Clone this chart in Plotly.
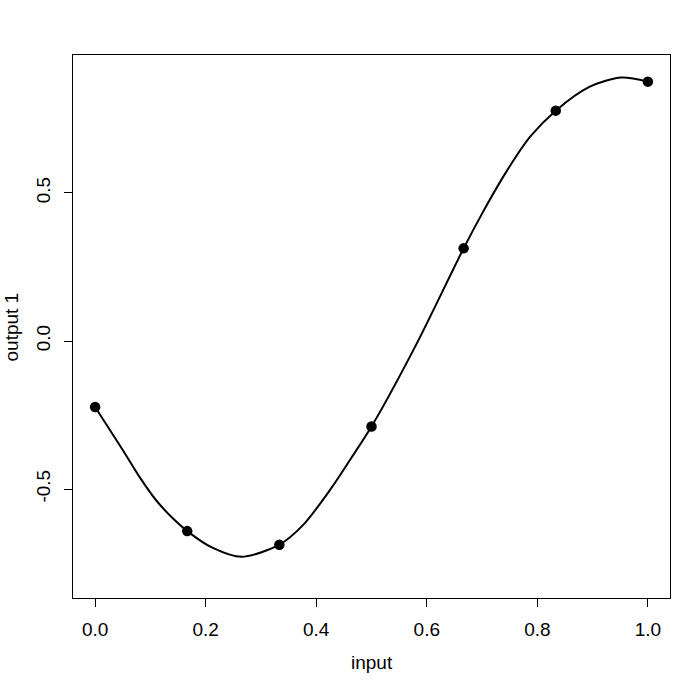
import plotly.graph_objects as go

# design points
pt_x = [0.0, 1/6, 2/6, 3/6, 4/6, 5/6, 1.0]
pt_y = [-0.223, -0.642, -0.688, -0.289, 0.313, 0.778, 0.876]

# fitted curve
curve_x = [0.0, 0.05, 0.08, 0.11, 0.14, 1/6, 0.213, 0.265, 1/3, 0.376, 0.425, 0.461,
           0.5, 0.582, 2/3, 0.702, 0.744, 0.787, 5/6, 0.895, 0.952, 1.0]
curve_y = [-0.223, -0.368, -0.458, -0.537, -0.598, -0.642, -0.699, -0.729, -0.688, -0.622,
           -0.503, -0.402, -0.289, -0.008, 0.313, 0.437, 0.572, 0.690, 0.778, 0.859, 0.890, 0.876]

x_ticks = [0.0, 0.2, 0.4, 0.6, 0.8, 1.0]
x_tick_text = ["0.0", "0.2", "0.4", "0.6", "0.8", "1.0"]
y_ticks = [-0.5, 0.0, 0.5]
y_tick_text = ["-0.5", "0.0", "0.5"]

x_title = "input"
y_title = "output 1"

FONT = "Liberation Sans, Arial, sans-serif"

fig = go.Figure()
fig.add_trace(go.Scatter(x=curve_x, y=curve_y, mode="lines",
                         line=dict(color="black", width=2, shape="spline", smoothing=0.8),
                         hoverinfo="skip", showlegend=False))
fig.add_trace(go.Scatter(x=pt_x, y=pt_y, mode="markers",
                         marker=dict(color="black", size=10.5),
                         showlegend=False))

fig.update_layout(
    width=689, height=688,
    margin=dict(l=73, r=19, t=55, b=90),
    paper_bgcolor="white", plot_bgcolor="white",
    font=dict(family=FONT, size=19, color="black"),
    xaxis=dict(range=[-0.04, 1.04], tickvals=x_ticks, ticktext=x_tick_text,
               showgrid=False, zeroline=False, showline=True, linecolor="black",
               linewidth=1, mirror=True, ticks="outside", ticklen=8, tickcolor="black",
               ticklabelstandoff=6, tickfont=dict(size=19)),
    yaxis=dict(range=[-0.868, 0.966], tickvals=y_ticks, ticktext=y_tick_text,
               showgrid=False, zeroline=False, showline=True, linecolor="black",
               linewidth=1, mirror=True, ticks="outside", ticklen=8, tickcolor="black",
               tickangle=-90, ticklabelstandoff=6, tickfont=dict(size=19)),
    annotations=[
        dict(text=x_title, xref="paper", yref="paper", x=0.5, y=-0.1179,
             xanchor="center", yanchor="middle", showarrow=False, font=dict(size=19)),
        dict(text=y_title, xref="paper", yref="paper", x=-0.1022, y=0.5,
             xanchor="center", yanchor="middle", textangle=-90, showarrow=False,
             font=dict(size=19)),
    ],
)

fig.write_html("out.html")
